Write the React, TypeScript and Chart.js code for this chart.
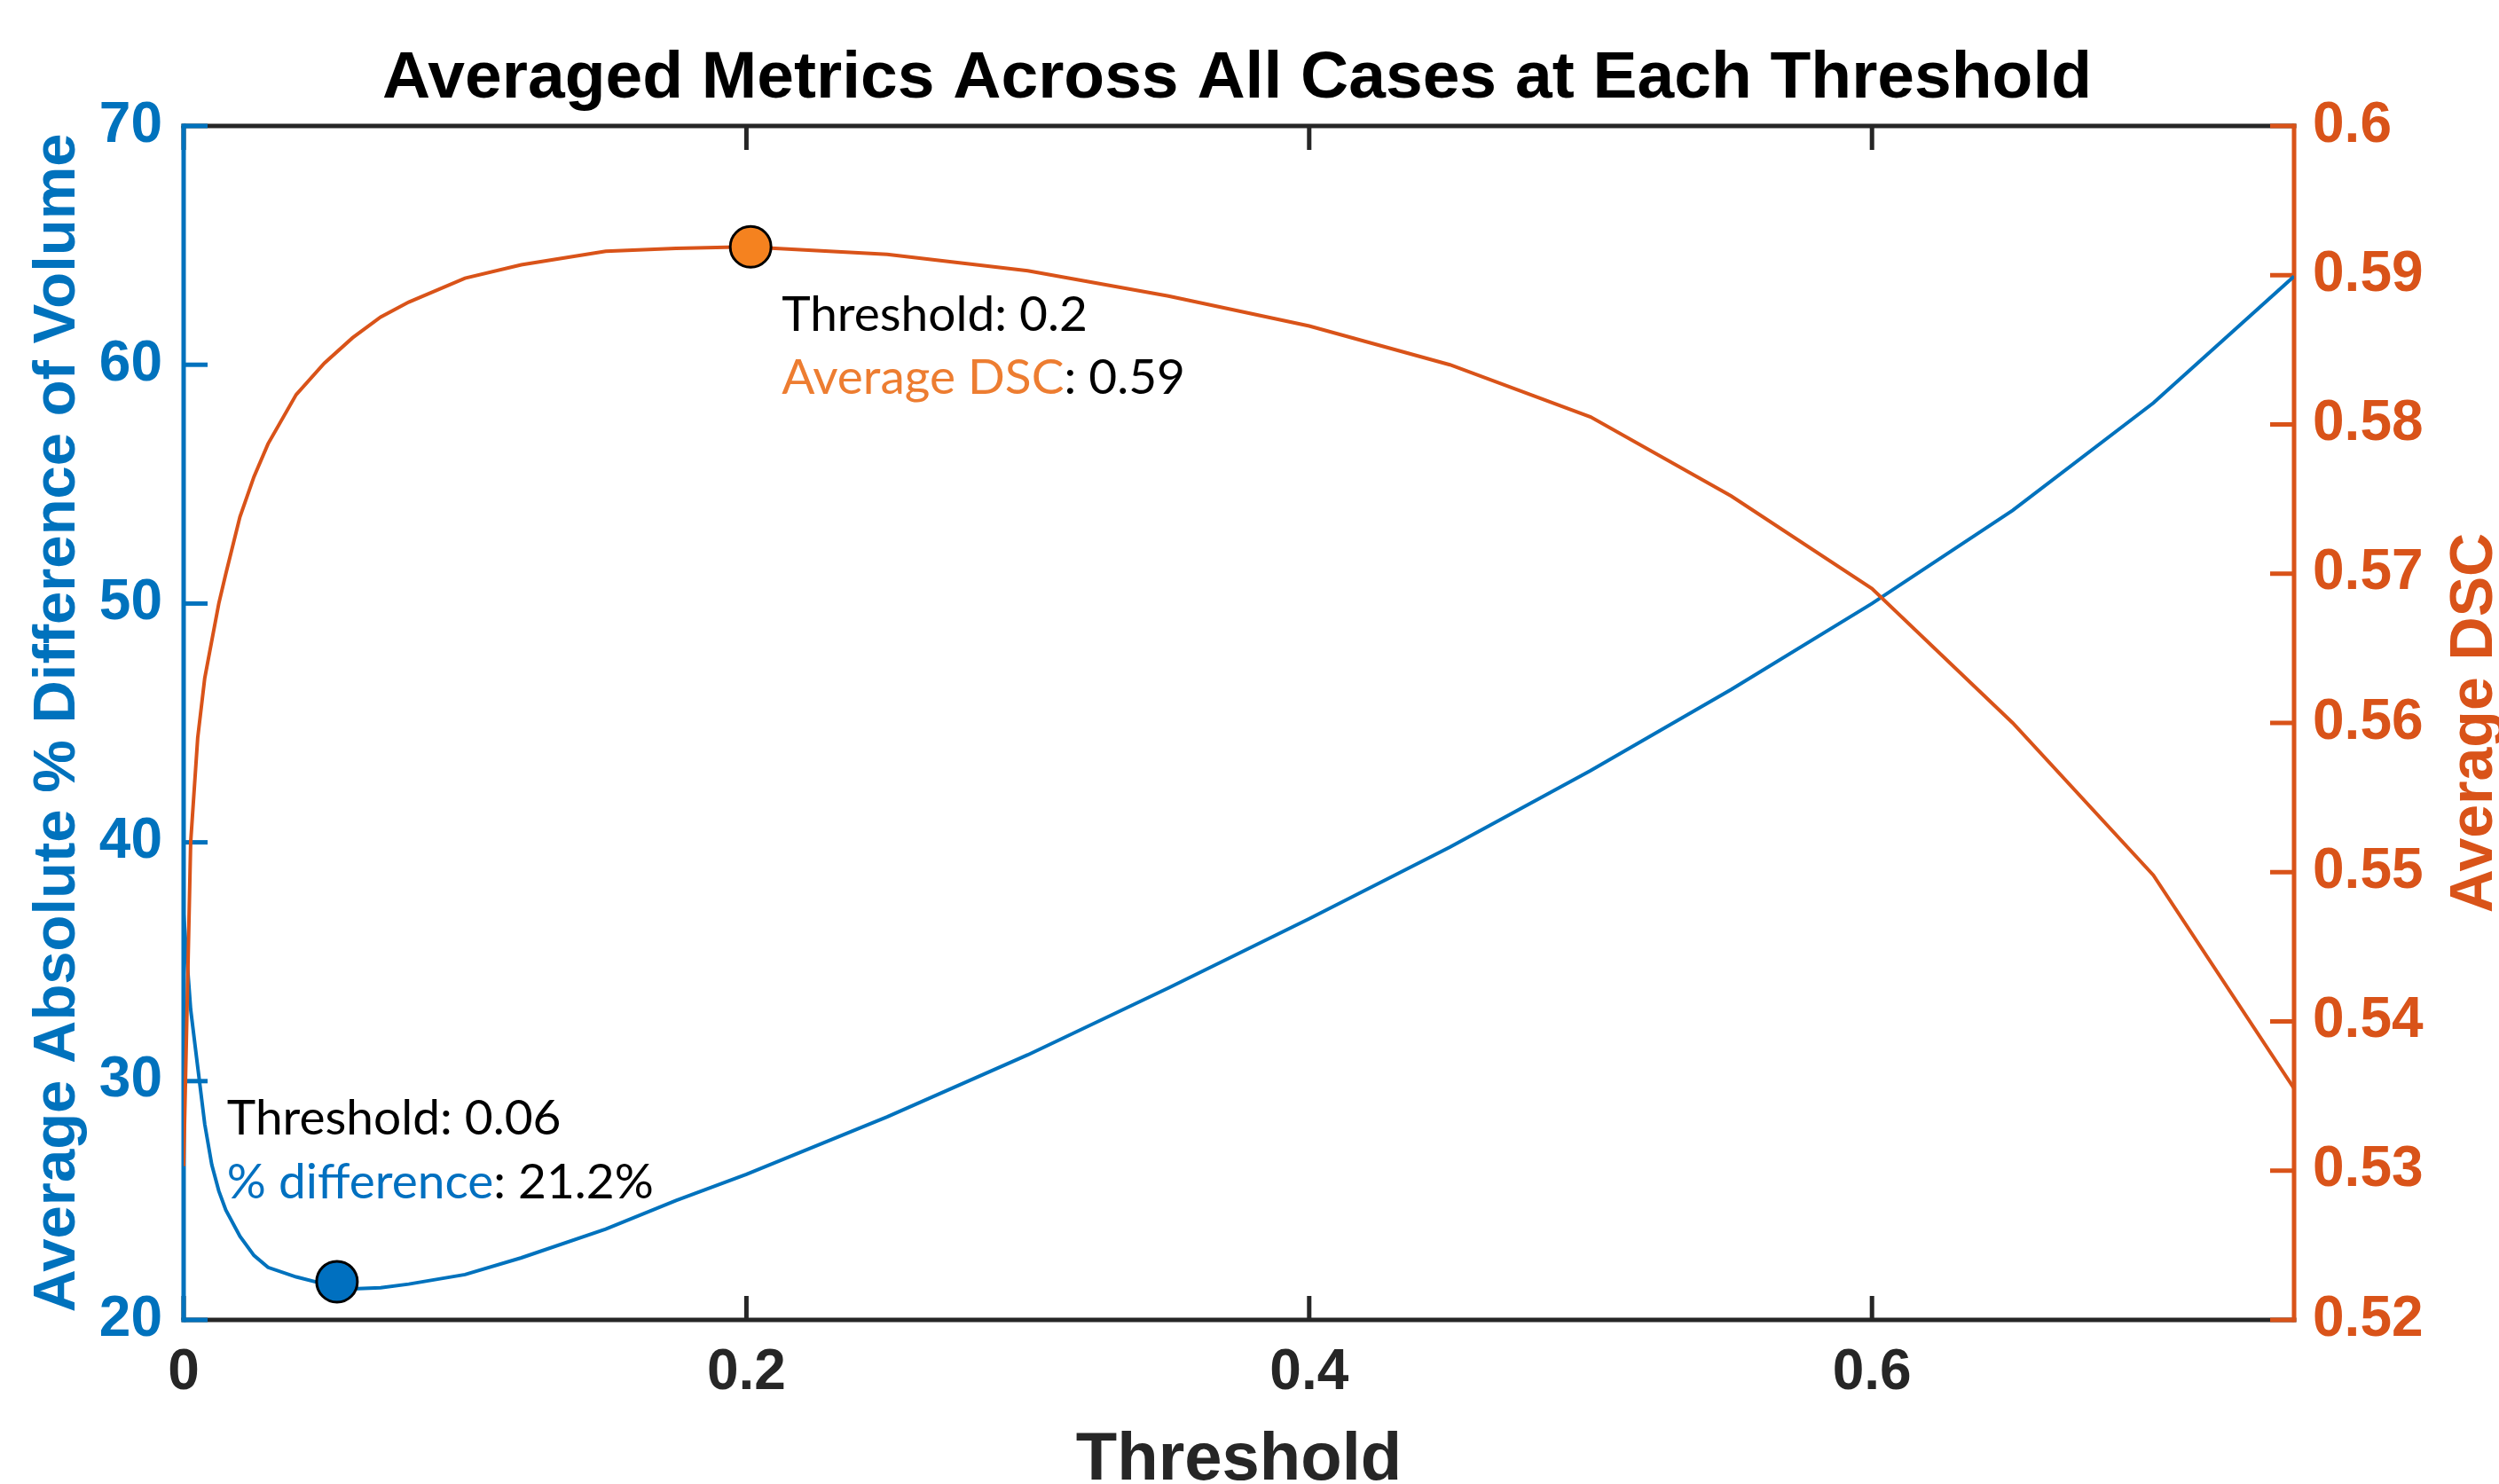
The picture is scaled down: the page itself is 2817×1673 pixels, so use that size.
import React, { useEffect, useRef } from "react";
import { Chart, registerables } from "chart.js";

Chart.register(...registerables);

// ---- data ----
const thresholds = [
  0, 0.0025, 0.005, 0.0075, 0.01, 0.0125, 0.015, 0.02, 0.025, 0.03, 0.04, 0.05, 0.06, 0.07, 0.08,
  0.1, 0.12, 0.15, 0.175, 0.2, 0.25, 0.3, 0.35, 0.4, 0.45, 0.5, 0.55, 0.6, 0.65, 0.7, 0.75,
];
const pctDifference = [
  37, 33.0, 30.6, 28.2, 26.5, 25.4, 24.6, 23.5, 22.7, 22.2, 21.8, 21.5, 21.3, 21.35, 21.5,
  21.9, 22.6, 23.8, 25.0, 26.1, 28.5, 31.1, 33.9, 36.8, 39.8, 43.0, 46.4, 50.0, 53.9, 58.4, 63.7,
];
const averageDSC = [
  0.5303, 0.552, 0.559, 0.563, 0.5655, 0.568, 0.57, 0.5738, 0.5765, 0.5787, 0.582, 0.5841, 0.5858,
  0.5872, 0.5882, 0.5898, 0.5907, 0.5916, 0.5918, 0.5919, 0.5914, 0.5903, 0.5886, 0.5866, 0.584,
  0.5805, 0.5752, 0.569, 0.56, 0.5498, 0.5355,
];
const bestDiffPoint = [0.0545, 21.6];
const bestDSCPoint = [0.2015, 0.5919];

const xTicks = [0, 0.2, 0.4, 0.6];
const leftTicks = [20, 30, 40, 50, 60, 70];
const rightTicks = [0.52, 0.53, 0.54, 0.55, 0.56, 0.57, 0.58, 0.59, 0.6];

const titleText = "Averaged Metrics Across All Cases at Each Threshold";
const xTitle = "Threshold";
const leftTitle = "Average Absolute % Difference of Volume";
const rightTitle = "Average DSC";
const diffNote = ["Threshold: 0.06", "% difference", ": 21.2%"];
const dscNote = ["Threshold: 0.2", "Average DSC", ": 0.59"];

// ---- styles ----
const W = 2817;
const H = 1673;
const BLUE = "#0072BD";
const ORANGE = "#D95319";
const DARK = "#262626";
const NOTE_BLUE = "#0070C0";
const NOTE_ORANGE = "#ED7D31";
const SANS = "'Liberation Sans', Arial, sans-serif";
const NOTE_FONT = "Lato, 'Noto Sans', sans-serif";
const TICK_LEN = 27;
const AXIS_W = 5;

const fmt = (v: number) => String(+Number(v).toFixed(2));

const decorPlugin = {
  id: "decor",
  beforeDatasetsDraw(chart: any) {
    const { ctx, chartArea: a, scales } = chart;
    const seg = (x1: number, y1: number, x2: number, y2: number) => {
      ctx.beginPath();
      ctx.moveTo(x1, y1);
      ctx.lineTo(x2, y2);
      ctx.stroke();
    };
    const h = AXIS_W / 2;
    ctx.save();
    ctx.lineWidth = AXIS_W;
    ctx.lineCap = "butt";
    ctx.strokeStyle = DARK;
    seg(a.left - h, a.top, a.right + h, a.top);
    seg(a.left - h, a.bottom, a.right + h, a.bottom);
    for (const v of xTicks) {
      const px = scales.x.getPixelForValue(v);
      seg(px, a.bottom, px, a.bottom - TICK_LEN);
      seg(px, a.top, px, a.top + TICK_LEN);
    }
    ctx.strokeStyle = BLUE;
    seg(a.left, a.top - h, a.left, a.bottom + h);
    for (const v of leftTicks) {
      const py = scales.yL.getPixelForValue(v);
      seg(a.left, py, a.left + TICK_LEN, py);
    }
    ctx.strokeStyle = ORANGE;
    seg(a.right, a.top - h, a.right, a.bottom + h);
    for (const v of rightTicks) {
      const py = scales.yR.getPixelForValue(v);
      seg(a.right, py, a.right - TICK_LEN, py);
    }
    ctx.restore();
  },
  afterDraw(chart: any) {
    const { ctx, chartArea: a, scales } = chart;
    ctx.save();
    // title
    ctx.fillStyle = "#000000";
    ctx.font = `bold 75px ${SANS}`;
    ctx.textAlign = "center";
    ctx.textBaseline = "alphabetic";
    ctx.fillText(titleText, (a.left + a.right) / 2 - 2, 110);
    // x title
    ctx.fillStyle = DARK;
    ctx.font = `bold 76px ${SANS}`;
    ctx.fillText(xTitle, (a.left + a.right) / 2, 1668);
    // left title
    const midY = (a.top + a.bottom) / 2;
    ctx.save();
    ctx.translate(66, midY);
    ctx.rotate(-Math.PI / 2);
    ctx.fillStyle = BLUE;
    ctx.font = `bold 67px ${SANS}`;
    ctx.textBaseline = "middle";
    ctx.fillText(leftTitle, 0, 0);
    ctx.restore();
    // right title
    ctx.save();
    ctx.translate(2790, midY);
    ctx.rotate(-Math.PI / 2);
    ctx.fillStyle = ORANGE;
    ctx.font = `bold 68px ${SANS}`;
    ctx.textBaseline = "middle";
    ctx.fillText(rightTitle, 0, 0);
    ctx.restore();

    // annotations
    ctx.textAlign = "left";
    ctx.textBaseline = "alphabetic";
    ctx.font = `55px ${NOTE_FONT}`;
    const multi = (parts: [string, string][], x: number, y: number) => {
      let cx = x;
      for (const [t, c] of parts) {
        ctx.fillStyle = c;
        ctx.fillText(t, cx, y);
        cx += ctx.measureText(t).width;
      }
    };
    const dx = scales.x.getPixelForValue(bestDiffPoint[0]);
    const dy = scales.yL.getPixelForValue(bestDiffPoint[1]);
    const nx1 = dx - 124;
    multi([[diffNote[0], "#000000"]], nx1, dy - 166);
    multi([[diffNote[1], NOTE_BLUE], [diffNote[2], "#000000"]], nx1, dy - 94);
    const ox = scales.x.getPixelForValue(bestDSCPoint[0]);
    const oy = scales.yR.getPixelForValue(bestDSCPoint[1]);
    multi([[dscNote[0], "#000000"]], ox + 35, oy + 95);
    multi([[dscNote[1], NOTE_ORANGE], [dscNote[2], "#000000"]], ox + 35, oy + 166);
    ctx.restore();
  },
};

export default function App() {
  const ref = useRef<HTMLCanvasElement | null>(null);
  useEffect(() => {
    const canvas = ref.current;
    if (!canvas) return;
    const tickFont = { family: SANS, size: 64, weight: "bold" as const };
    const chart = new Chart(canvas, {
      type: "scatter",
      data: {
        datasets: [
          {
            label: "min % difference",
            data: [{ x: bestDiffPoint[0], y: bestDiffPoint[1] }],
            yAxisID: "yL",
            pointRadius: 23,
            pointBackgroundColor: NOTE_BLUE,
            pointBorderColor: "#000000",
            pointBorderWidth: 3,
            showLine: false,
            order: 0,
            clip: false as any,
          },
          {
            label: "max DSC",
            data: [{ x: bestDSCPoint[0], y: bestDSCPoint[1] }],
            yAxisID: "yR",
            pointRadius: 23,
            pointBackgroundColor: "#F5821F",
            pointBorderColor: "#000000",
            pointBorderWidth: 3,
            showLine: false,
            order: 0,
            clip: false as any,
          },
          {
            label: "Average Absolute % Difference of Volume",
            data: thresholds.map((t, i) => ({ x: t, y: pctDifference[i] })),
            yAxisID: "yL",
            showLine: true,
            borderColor: BLUE,
            borderWidth: 4,
            pointRadius: 0,
            tension: 0,
            order: 2,
          },
          {
            label: "Average DSC",
            data: thresholds.map((t, i) => ({ x: t, y: averageDSC[i] })),
            yAxisID: "yR",
            showLine: true,
            borderColor: ORANGE,
            borderWidth: 4,
            pointRadius: 0,
            tension: 0,
            order: 1,
          },
        ],
      },
      options: {
        animation: false,
        responsive: false,
        devicePixelRatio: 1,
        layout: { padding: { top: 142, left: 0, right: 0, bottom: 0 } },
        plugins: {
          legend: { display: false },
          title: { display: false },
          tooltip: { enabled: false },
        },
        scales: {
          x: {
            type: "linear",
            position: "bottom",
            min: 0,
            max: 0.75,
            grid: { display: false, drawTicks: false },
            border: { display: false },
            afterBuildTicks: (s: any) => {
              s.ticks = xTicks.map((v) => ({ value: v }));
            },
            afterFit: (s: any) => {
              s.height = H - 1488;
            },
            ticks: {
              font: tickFont,
              color: DARK,
              padding: 22,
              maxRotation: 0,
              autoSkip: false,
              callback: (v: any) => fmt(v),
            },
          },
          yL: {
            type: "linear",
            position: "left",
            min: 20,
            max: 70,
            grid: { display: false, drawTicks: false },
            border: { display: false },
            afterBuildTicks: (s: any) => {
              s.ticks = leftTicks.map((v) => ({ value: v }));
            },
            afterFit: (s: any) => {
              s.width = 207;
            },
            ticks: {
              font: tickFont,
              color: BLUE,
              padding: 24,
              autoSkip: false,
              callback: (v: any) => fmt(v),
            },
          },
          yR: {
            type: "linear",
            position: "right",
            min: 0.52,
            max: 0.6,
            grid: { display: false, drawTicks: false },
            border: { display: false },
            afterBuildTicks: (s: any) => {
              s.ticks = rightTicks.map((v) => ({ value: v }));
            },
            afterFit: (s: any) => {
              s.width = W - 2586;
            },
            ticks: {
              font: tickFont,
              color: ORANGE,
              padding: 21,
              autoSkip: false,
              callback: (v: any) => fmt(v),
            },
          },
        },
      },
      plugins: [decorPlugin],
    });
    return () => chart.destroy();
  }, []);

  return (
    <div
      style={{
        position: "fixed",
        left: 0,
        top: 0,
        width: W,
        height: H,
        background: "#ffffff",
      }}
    >
      <canvas ref={ref} width={W} height={H} style={{ width: W, height: H, display: "block" }} />
    </div>
  );
}
